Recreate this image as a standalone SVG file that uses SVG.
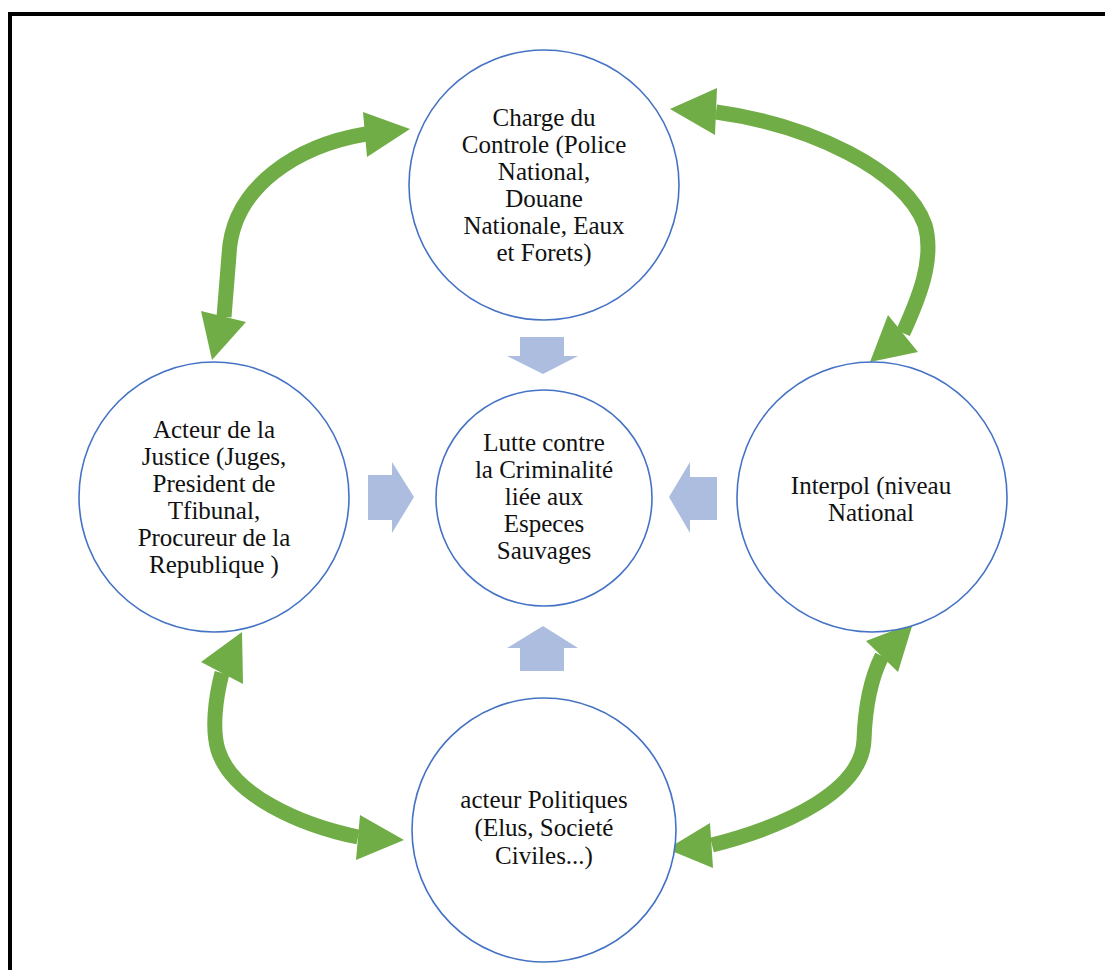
<svg xmlns="http://www.w3.org/2000/svg" width="1105" height="970" viewBox="0 0 1105 970">
<style>
.frame{fill:none;stroke:#000;stroke-width:4}
.node{fill:#fff;stroke:#4472c4;stroke-width:1.6}
.lbl{font-family:'Liberation Serif','DejaVu Serif',serif;font-size:25px;fill:#111;text-anchor:middle}
.shaft{fill:none;stroke:#70ad47;stroke-width:15;stroke-linecap:butt}
.head{fill:#70ad47}
.blue{fill:#adbde0}
</style>
<rect width="1105" height="970" fill="#fff"/>
<rect class="frame" x="10" y="14" width="1100" height="970"/>
<g id="connectors">
  <path class="shaft" d="M366,134 C300,145 232,185 229,255 L224,317"/>
  <polygon class="head" points="363,112 410,129 367,157"/>
  <polygon class="head" points="201,311 212,360 246,322"/>
  <path class="shaft" d="M716,112 C810,125 905,170 925,225 C935,260 918,300 903,333"/>
  <polygon class="head" points="717,88 670,109 715,135"/>
  <polygon class="head" points="888,315 870,362 918,352"/>
  <path class="shaft" d="M222,673 C215,700 212,730 218,750 C232,795 300,825 358,837"/>
  <polygon class="head" points="201,662 242,632 243,684"/>
  <polygon class="head" points="360,815 404,840 356,860"/>
  <path class="shaft" d="M882,656 C870,680 865,710 864,740 C862,790 790,825 712,845"/>
  <polygon class="head" points="866,641 913,623 898,672"/>
  <polygon class="head" points="710,823 667,849 713,868"/>
  <polygon class="blue" points="520,337 564,337 564,356 578,356 543,374 507,356 520,356"/>
  <polygon class="blue" points="520,671 564,671 564,648 578,648 543,626 507,648 520,648"/>
  <polygon class="blue" points="368,475 392,475 392,462 414,497 392,533 392,520 368,520"/>
  <polygon class="blue" points="717,477 690,477 690,462 669,497 690,533 690,520 717,520"/>
</g>
<g id="node-top" font-family="Liberation Serif, serif">
  <circle class="node" cx="544" cy="185" r="135"/>
  <text class="lbl" x="544" y="126">Charge du</text>
  <text class="lbl" x="544" y="153">Controle (Police</text>
  <text class="lbl" x="544" y="180">National,</text>
  <text class="lbl" x="544" y="207">Douane</text>
  <text class="lbl" x="544" y="234">Nationale, Eaux</text>
  <text class="lbl" x="544" y="261">et Forets)</text>
</g>
<g id="node-left">
  <circle class="node" cx="214" cy="497" r="135"/>
  <text class="lbl" x="214" y="438">Acteur de la</text>
  <text class="lbl" x="214" y="465">Justice (Juges,</text>
  <text class="lbl" x="214" y="492">President de</text>
  <text class="lbl" x="214" y="519">Tfibunal,</text>
  <text class="lbl" x="214" y="546">Procureur de la</text>
  <text class="lbl" x="214" y="573">Republique )</text>
</g>
<g id="node-center">
  <circle class="node" cx="544" cy="498" r="108"/>
  <text class="lbl" x="544" y="451">Lutte contre</text>
  <text class="lbl" x="544" y="478">la Criminalité</text>
  <text class="lbl" x="544" y="505">liée aux</text>
  <text class="lbl" x="544" y="532">Especes</text>
  <text class="lbl" x="544" y="559">Sauvages</text>
</g>
<g id="node-right">
  <circle class="node" cx="872" cy="497" r="135"/>
  <text class="lbl" x="871" y="494">Interpol (niveau</text>
  <text class="lbl" x="871" y="521">National</text>
</g>
<g id="node-bottom">
  <circle class="node" cx="544" cy="830" r="132"/>
  <text class="lbl" x="544" y="808">acteur Politiques</text>
  <text class="lbl" x="544" y="836">(Elus, Societé</text>
  <text class="lbl" x="544" y="864">Civiles...)</text>
</g>
</svg>
